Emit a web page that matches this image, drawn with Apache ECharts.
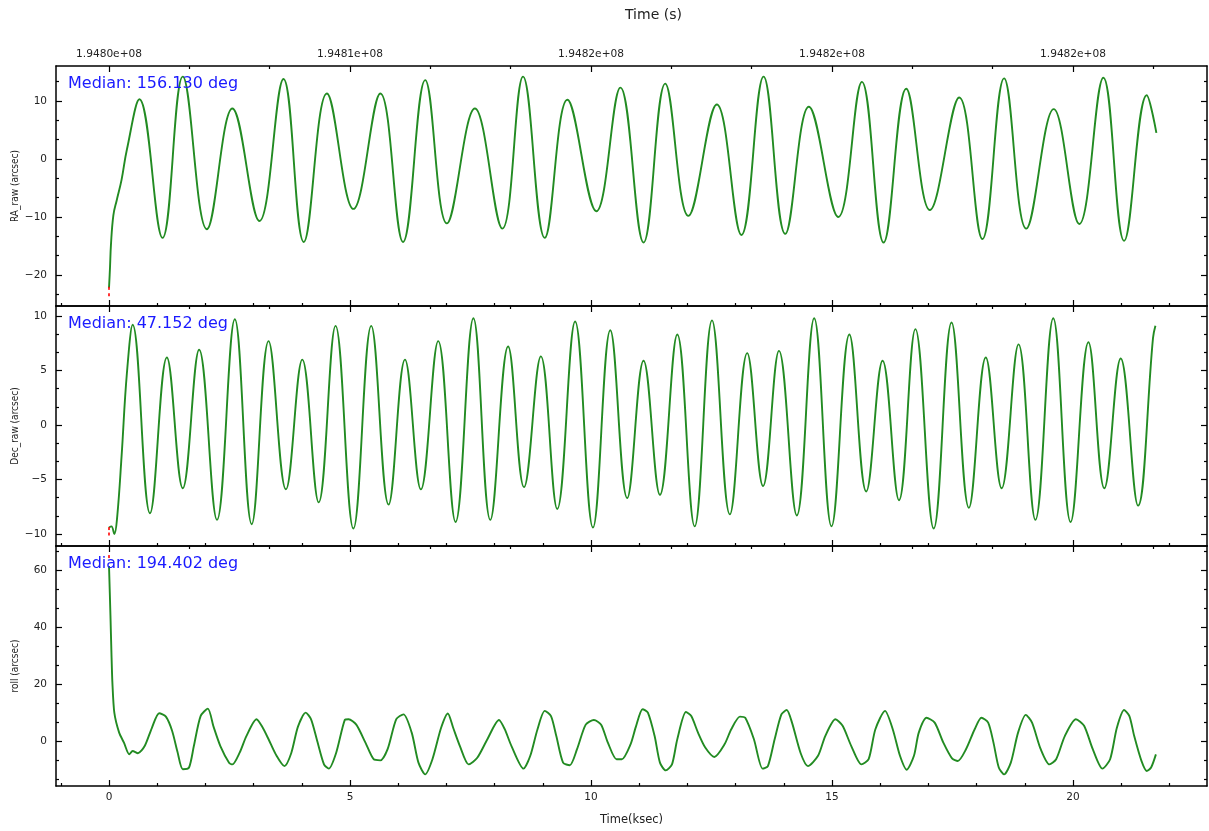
<!DOCTYPE html>
<html><head><meta charset="utf-8">
<script src="https://cdn.jsdelivr.net/npm/echarts@6/dist/echarts.min.js"></script>
<style>html,body{margin:0;padding:0;background:#fff}#c{width:1209px;height:831px}</style>
</head><body><div id="c"></div>
<script>
// ---- data (time in ksec, offsets in arcsec) ----
const raPoints = [[0,-22.2],[0.02,-18.8],[0.04,-14.8],[0.09,-9.7],[0.16,-7.1],[0.26,-3.6],[0.37,1.6],[0.63,10.3],
[1.11,-13.6],[1.53,14.2],[2.03,-12.1],[2.56,8.7],[3.12,-10.7],[3.62,13.8],[4.04,-14.3],[4.52,11.3],[5.07,-8.6],[5.63,11.3],
[6.10,-14.3],[6.56,13.6],[7.01,-11.1],[7.59,8.7],[8.16,-12.0],[8.59,14.2],[9.04,-13.6],[9.51,10.2],[10.11,-9.0],[10.61,12.3],
[11.09,-14.4],[11.54,13.0],[12.02,-9.8],[12.61,9.4],[13.12,-13.1],[13.58,14.2],[14.03,-12.9],[14.52,9.0],[15.13,-10.0],[15.62,13.3],
[16.07,-14.4],[16.54,12.1],[17.03,-8.8],[17.64,10.6],[18.12,-13.8],[18.57,13.9],[19.03,-12.0],[19.60,8.6],[20.13,-11.2],[20.63,14.0],
[21.06,-14.1],[21.53,11.0],[21.73,4.5]];
const decPoints = [[0,-9.4],[0.05,-9.3],[0.11,-10.0],[0.17,-8.4],[0.26,-2.9],[0.37,4.7],[0.49,9.2],[0.85,-8.1],[1.20,6.2],[1.53,-5.8],
[1.87,6.9],[2.24,-8.7],[2.61,9.7],[2.96,-9.1],[3.31,7.7],[3.67,-5.9],[4.01,6.0],[4.35,-7.1],[4.70,9.1],[5.07,-9.5],[5.44,9.1],[5.80,-7.3],
[6.14,6.0],[6.47,-5.9],[6.83,7.7],[7.19,-8.9],[7.56,9.8],[7.91,-8.7],[8.28,7.2],[8.61,-5.7],[8.96,6.3],[9.30,-7.7],[9.67,9.5],[10.04,-9.4],
[10.40,8.7],[10.75,-6.7],[11.09,5.9],[11.43,-6.4],[11.79,8.3],[12.15,-9.3],[12.51,9.6],[12.88,-8.2],[13.24,6.6],[13.57,-5.6],[13.90,6.8],
[14.27,-8.3],[14.63,9.8],[14.99,-9.3],[15.36,8.3],[15.71,-6.1],[16.05,5.9],[16.39,-6.9],[16.73,8.8],[17.11,-9.5],[17.48,9.4],[17.84,-7.6],
[18.19,6.2],[18.52,-5.8],[18.87,7.4],[19.22,-8.7],[19.59,9.8],[19.95,-8.9],[20.32,7.6],[20.65,-5.8],[20.99,6.1],[21.35,-7.4],[21.66,8.0],[21.71,9.1]];
const rollPoints = [[0,61.4],[0.03,43.9],[0.05,31.1],[0.07,20.6],[0.11,10.1],[0.21,3.1],[0.31,-0.4],[0.42,-4.5],[0.49,-3.3],[0.60,-4.1],
[0.74,-1.6],[0.89,4.8],[1.04,9.9],[1.18,8.7],[1.31,3.7],[1.42,-3.6],[1.53,-9.7],[1.66,-9.1],[1.76,-1.6],[1.90,8.9],[2.05,11.5],[2.17,5.1],
[2.31,-1.6],[2.49,-7.4],[2.56,-8.0],[2.71,-3.9],[2.85,1.9],[3.06,7.8],[3.17,5.4],[3.31,0.8],[3.46,-4.5],[3.64,-8.6],[3.78,-4.1],[3.92,5.2],
[4.08,10.1],[4.19,7.8],[4.31,0.8],[4.46,-8.0],[4.56,-9.5],[4.71,-4.1],[4.89,7.5],[4.97,7.8],[5.13,5.9],[5.32,-0.4],[5.49,-6.2],[5.63,-6.6],
[5.78,-2.7],[5.96,7.8],[6.11,9.5],[6.28,3.1],[6.42,-7.4],[6.56,-11.5],[6.71,-6.2],[6.89,4.8],[7.03,9.8],[7.14,4.8],[7.28,-1.6],[7.46,-8.0],
[7.64,-5.7],[7.85,0.8],[8.09,7.5],[8.21,4.3],[8.35,-1.6],[8.60,-9.5],[8.74,-5.0],[8.89,4.3],[9.04,10.7],[9.17,8.9],[9.28,1.9],[9.42,-7.4],
[9.56,-8.3],[9.71,-2.7],[9.89,5.9],[10.06,7.5],[10.21,5.9],[10.35,-0.4],[10.53,-6.2],[10.64,-6.2],[10.82,-1.0],[10.93,5.1],[11.07,11.3],
[11.18,10.1],[11.32,1.9],[11.43,-7.4],[11.55,-10.1],[11.68,-8.0],[11.79,0.8],[11.97,10.3],[12.08,8.9],[12.22,3.1],[12.37,-2.1],[12.56,-5.4],
[12.77,-1.0],[12.91,4.3],[13.09,8.7],[13.20,8.3],[13.38,0.8],[13.56,-9.5],[13.67,-8.6],[13.81,0.8],[13.95,9.5],[14.06,11.0],[14.17,6.6],
[14.35,-4.1],[14.50,-8.6],[14.71,-5.0],[14.86,1.9],[15.07,7.8],[15.22,5.5],[15.40,-1.6],[15.61,-8.0],[15.76,-6.2],[15.90,4.3],[16.10,10.7],
[16.26,4.3],[16.41,-5.0],[16.55,-9.9],[16.70,-5.0],[16.80,3.1],[16.96,8.3],[17.13,6.6],[17.31,-0.4],[17.49,-5.9],[17.61,-6.8],[17.78,-2.7],
[17.96,4.3],[18.10,8.3],[18.24,6.6],[18.35,-0.4],[18.46,-9.1],[18.57,-11.5],[18.71,-7.4],[18.86,3.1],[19.02,9.3],[19.15,6.6],[19.33,-2.7],
[19.51,-8.0],[19.65,-6.2],[19.83,1.9],[20.06,7.8],[20.23,5.5],[20.41,-2.7],[20.61,-9.5],[20.77,-6.2],[20.91,4.8],[21.06,11.0],[21.17,8.9],
[21.27,1.9],[21.42,-6.8],[21.53,-10.3],[21.62,-9.1],[21.72,-4.5]];
const raRed = [[0,-22.3],[0,-23.4]];
const decRed = [[0,-9.5],[0,-10.0]];
const rollRed = [[0,64.7]];
const panelNames = ['RA_raw (arcsec)', 'Dec_raw (arcsec)', 'roll (arcsec)'];
const medianTexts = ['Median: 156.130 deg', 'Median: 47.152 deg', 'Median: 194.402 deg'];
const bottomTickLabels = ['0', '5', '10', '15', '20'];
const topTickLabels = ['1.9480e+08', '1.9481e+08', '1.9482e+08', '1.9482e+08', '1.9482e+08'];

// ---- layout ----
const X_MIN = -1.1, X_MAX = 22.78;
const yRanges = [[-25.34, 16.03], [-11.10, 10.92], [-15.57, 68.4]];
const yMajorStep = [10, 5, 20];
const gridTops = [66, 306, 546];
const PANEL_H = 240;
const FONT = 'DejaVu Sans';

function tickSet(min, max, step, every) {
  const major = [], minor = [];
  for (let k = Math.ceil(min / step - 1e-9); k * step <= max + 1e-9; k++) {
    const v = +(k * step).toFixed(6);
    if (k % every === 0) major.push(v); else minor.push(v);
  }
  return { major, minor };
}
const xb = tickSet(X_MIN, X_MAX, 1, 5);
const xt = tickSet(X_MIN, X_MAX, 5 / 3, 3);
const fmtNum = v => (v < 0 ? '\u2212' + Math.abs(Math.round(v)) : String(Math.round(v)));

const grids = [], xAxes = [], yAxes = [], series = [], titles = [];
const lineStyle = { color: '#000', width: 1.5 };

for (let i = 0; i < 3; i++) {
  grids.push({ left: 56, right: 2, top: gridTops[i], height: PANEL_H, containLabel: false, outerBoundsMode: 'none' });
  const mkX = (pos, vals, len, showLine, label) => ({
    type: 'value', gridIndex: i, position: pos, min: X_MIN, max: X_MAX,
    axisLine: { show: showLine, onZero: false, lineStyle },
    axisTick: { show: true, inside: true, length: len, customValues: vals, lineStyle: { color: '#000', width: 1.2 } },
    axisLabel: label || { show: false },
    splitLine: { show: false }
  });
  xAxes.push(mkX('bottom', xb.major, 6, true, i === 2 ? {
    show: true, customValues: xb.major, margin: 6, fontSize: 10.5, color: '#222', fontFamily: FONT,
    formatter: v => bottomTickLabels[Math.round(v / 5)]
  } : null));
  if (i === 2) {
    const ax = xAxes[xAxes.length - 1];
    ax.name = 'Time(ksec)';
    ax.nameLocation = 'middle';
    ax.nameGap = 28;
    ax.nameTextStyle = { fontSize: 11.5, color: '#222', fontFamily: FONT };
  }
  xAxes.push(mkX('bottom', xb.minor, 3, false, null));
  xAxes.push(mkX('top', xt.major, 6, true, i === 0 ? {
    show: true, customValues: xt.major, margin: 6, fontSize: 10.6, color: '#222', fontFamily: FONT,
    formatter: v => topTickLabels[Math.round(v / 5)]
  } : null));
  xAxes.push(mkX('top', xt.minor, 3, false, null));

  const [ymin, ymax] = yRanges[i];
  const yt = tickSet(ymin, ymax, yMajorStep[i] / 3, 3);
  const mkY = (pos, vals, len, showLine, label) => ({
    type: 'value', gridIndex: i, position: pos, min: ymin, max: ymax,
    axisLine: { show: showLine, onZero: false, lineStyle },
    axisTick: { show: true, inside: true, length: len, customValues: vals, lineStyle: { color: '#000', width: 1.2 } },
    axisLabel: label || { show: false },
    splitLine: { show: false }
  });
  const leftMajor = mkY('left', yt.major, 6, true, {
    show: true, customValues: yt.major, margin: 9, fontSize: 10.5, color: '#222', fontFamily: FONT, formatter: fmtNum
  });
  leftMajor.name = panelNames[i];
  leftMajor.nameLocation = 'middle';
  leftMajor.nameGap = 36;
  leftMajor.nameMoveOverlap = false;
  leftMajor.nameRotate = 90;
  leftMajor.nameTextStyle = { fontSize: 10, color: '#222', fontFamily: 'DejaVu Sans Condensed, Liberation Sans Narrow, DejaVu Sans' };
  yAxes.push(leftMajor);
  yAxes.push(mkY('left', yt.minor, 3, false, null));
  yAxes.push(mkY('right', yt.major, 6, true, null));
  yAxes.push(mkY('right', yt.minor, 3, false, null));

  titles.push({
    text: medianTexts[i], left: 68, top: gridTops[i] + 10, padding: 0,
    textStyle: { color: '#1a1aff', fontSize: 16, fontWeight: 'normal', fontFamily: FONT }
  });
}
titles.push({ text: 'Time (s)', left: 625, top: 8, padding: 0,
  textStyle: { color: '#222', fontSize: 14, fontWeight: 'normal', fontFamily: FONT } });

const lines = [raPoints, decPoints, rollPoints];
const reds = [raRed, decRed, rollRed];
for (let i = 0; i < 3; i++) {
  series.push({
    type: 'line', xAxisIndex: i * 4, yAxisIndex: i * 4, data: lines[i],
    showSymbol: false, smooth: i === 2 ? 0.25 : 0.4, z: 3,
    lineStyle: { color: '#228b22', width: 1.9 }, animation: false
  });
  series.push({
    type: 'scatter', xAxisIndex: i * 4, yAxisIndex: i * 4, data: reds[i],
    symbol: 'rect', symbolSize: [2, 3], itemStyle: { color: '#ff0000' }, z: 4, animation: false
  });
}

const chart = echarts.init(document.getElementById('c'), null, { renderer: 'canvas' });
chart.setOption({
  backgroundColor: '#fff', animation: false,
  title: titles, grid: grids, xAxis: xAxes, yAxis: yAxes, series
});
</script></body></html>
